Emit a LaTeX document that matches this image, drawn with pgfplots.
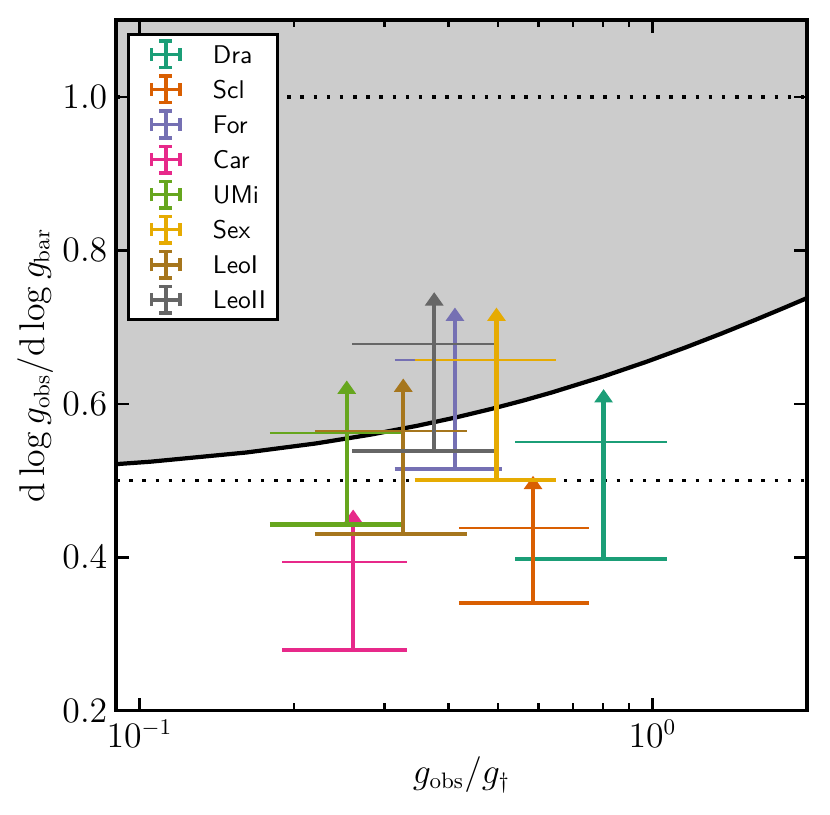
\documentclass[border=0pt]{standalone}
\usepackage{pgfplots}
\pgfplotsset{compat=1.18}
\usetikzlibrary{arrows.meta}
\definecolor{cdra}{HTML}{1B9E77}
\definecolor{cscl}{HTML}{D95F02}
\definecolor{cfor}{HTML}{7570B3}
\definecolor{ccar}{HTML}{E7298A}
\definecolor{cumi}{HTML}{66A61E}
\definecolor{csex}{HTML}{E6AB02}
\definecolor{cleoi}{HTML}{A6761D}
\definecolor{cleoii}{HTML}{666666}
\pgfplotsset{
  errleg/.style={#1, line width=1.5pt, legend image code/.code={
    \path (0pt,0pt);
    \draw (4.8pt,0pt) -- (16.3pt,0pt);
    \draw (10.55pt,-5.3pt) -- (10.55pt,5.3pt);
    \draw (4.8pt,-2.6pt) -- (4.8pt,2.6pt);
    \draw (16.3pt,-2.6pt) -- (16.3pt,2.6pt);
    \draw (7.95pt,5.3pt) -- (13.15pt,5.3pt);
    \draw (7.95pt,-5.3pt) -- (13.15pt,-5.3pt);
  }},
  thickbar/.style={#1, line width=1.7pt, forget plot},
  thinbar/.style={#1, line width=0.8pt, forget plot},
  uparrow/.style={#1, line width=1.8pt, -{Triangle[width=7.2pt,length=5.4pt]}, forget plot},
}
\begin{document}
\begin{tikzpicture}
\useasboundingbox (-46.7pt,-41.85pt) rectangle (287.3pt,286.05pt);
\begin{axis}[
  at={(0pt,0pt)}, anchor=south west,
  scale only axis, width=278pt, height=278pt,
  xmode=log, xmin=0.09, xmax=2, ymin=0.2, ymax=1.1,
  xtick={0.1,1}, xticklabels={$10^{-1}$,$10^{0}$},
  minor xtick={0.2,0.3,0.4,0.5,0.6,0.7,0.8,0.9},
  ytick={0.2,0.4,0.6,0.8,1.0},
  y tick label style={/pgf/number format/.cd,fixed,fixed zerofill,precision=1,/tikz/.cd},
  tick align=inside,
  xtick pos=both, ytick pos=both,
  major tick length=5.2pt, minor tick length=3pt,
  every tick/.append style={black, line width=1pt},
  axis line style={line width=1.3pt},
  axis on top,
  tick label style={font=\fontsize{13.4}{15}\selectfont},
  label style={font=\fontsize{13.4}{15}\selectfont},
  xlabel={$g_{\mathrm{obs}}/g_{\dagger}$},
  ylabel={$\mathrm{d}\log g_{\mathrm{obs}}/\mathrm{d}\log g_{\mathrm{bar}}$},
  xlabel style={at={(axis description cs:0.5,-0.0928)}, anchor=center},
  ylabel style={at={(axis description cs:-0.1172,0.5)}, anchor=center},
  legend cell align=left,
  legend style={
    at={(rel axis cs:0,1)}, anchor=north west, xshift=4.6pt, yshift=-5.4pt,
    draw=black, line width=1.2pt, fill=white,
    font=\sffamily\fontsize{10.3}{12}\selectfont,
    inner xsep=3.5pt, inner ysep=1.8pt,
    row sep=2pt, /tikz/column sep=11.5pt,
    nodes={inner sep=1pt, text height=7pt, text depth=0pt},
  },
]
% shaded region above the curve
\addplot[fill=gray!40, draw=none, forget plot] coordinates {
 (0.05126,0.51239) (0.08324,0.51973) (0.10508,0.52458) (0.16153,0.53656)
 (0.22067,0.54834) (0.28255,0.55990) (0.34725,0.57126) (0.41482,0.58241)
 (0.48532,0.59335) (0.55882,0.60409) (0.63537,0.61463) (0.79789,0.63509)
 (0.97335,0.65475) (1.16222,0.67362) (1.36495,0.69170) (1.58198,0.70901)
 (1.81374,0.72557) (2.06066,0.74139) (2.06066,1.2) (0.05126,1.2)} -- cycle;
\addplot[black, line width=1.7pt, forget plot] coordinates {
 (0.05126,0.51239) (0.08324,0.51973) (0.10508,0.52458) (0.16153,0.53656)
 (0.22067,0.54834) (0.28255,0.55990) (0.34725,0.57126) (0.41482,0.58241)
 (0.48532,0.59335) (0.55882,0.60409) (0.63537,0.61463) (0.79789,0.63509)
 (0.97335,0.65475) (1.16222,0.67362) (1.36495,0.69170) (1.58198,0.70901)
 (1.81374,0.72557) (2.06066,0.74139)};
\addplot[black, line width=1.4pt, dash pattern=on 1.4pt off 3.9pt, forget plot] coordinates {(0.09,1.0) (2,1.0)};
\addplot[black, line width=1.4pt, dash pattern=on 1.4pt off 3.9pt, forget plot] coordinates {(0.09,0.5) (2,0.5)};
% Dra
\addplot[thickbar=cdra] coordinates {(0.5405,0.3974) (1.066,0.3974)};
\addplot[thinbar=cdra] coordinates {(0.5405,0.5507) (1.066,0.5507)};
\addplot[uparrow=cdra] coordinates {(0.8029,0.3974) (0.8029,0.6192)};
% Scl
\addplot[thickbar=cscl] coordinates {(0.4194,0.3403) (0.7505,0.3403)};
\addplot[thinbar=cscl] coordinates {(0.4194,0.4383) (0.7505,0.4383)};
\addplot[uparrow=cscl] coordinates {(0.5850,0.3403) (0.5850,0.5063)};
% For
\addplot[thickbar=cfor] coordinates {(0.3144,0.5154) (0.5088,0.5154)};
\addplot[thinbar=cfor] coordinates {(0.3144,0.6575) (0.5088,0.6575)};
\addplot[uparrow=cfor] coordinates {(0.4120,0.5154) (0.4120,0.7255)};
% Car
\addplot[thickbar=ccar] coordinates {(0.1900,0.2793) (0.3318,0.2793)};
\addplot[thinbar=ccar] coordinates {(0.1900,0.3939) (0.3318,0.3939)};
\addplot[uparrow=ccar] coordinates {(0.2609,0.2793) (0.2609,0.4624)};
% UMi
\addplot[thickbar=cumi] coordinates {(0.1796,0.4427) (0.3244,0.4427)};
\addplot[thinbar=cumi] coordinates {(0.1796,0.5625) (0.3244,0.5625)};
\addplot[uparrow=cumi] coordinates {(0.2535,0.4427) (0.2535,0.6305)};
% Sex
\addplot[thickbar=csex] coordinates {(0.3439,0.5007) (0.6483,0.5007)};
\addplot[thinbar=csex] coordinates {(0.3439,0.6575) (0.6483,0.6575)};
\addplot[uparrow=csex] coordinates {(0.4965,0.5007) (0.4965,0.7255)};
% LeoI
\addplot[thickbar=cleoi] coordinates {(0.2197,0.4305) (0.4352,0.4305)};
\addplot[thinbar=cleoi] coordinates {(0.2197,0.5651) (0.4352,0.5651)};
\addplot[uparrow=cleoi] coordinates {(0.3267,0.4305) (0.3267,0.6331)};
% LeoII
\addplot[thickbar=cleoii] coordinates {(0.2600,0.5382) (0.4920,0.5382)};
\addplot[thinbar=cleoii] coordinates {(0.2600,0.6784) (0.4920,0.6784)};
\addplot[uparrow=cleoii] coordinates {(0.3754,0.5382) (0.3754,0.7455)};
% legend
\addlegendimage{errleg=cdra}\addlegendentry{Dra}
\addlegendimage{errleg=cscl}\addlegendentry{Scl}
\addlegendimage{errleg=cfor}\addlegendentry{For}
\addlegendimage{errleg=ccar}\addlegendentry{Car}
\addlegendimage{errleg=cumi}\addlegendentry{UMi}
\addlegendimage{errleg=csex}\addlegendentry{Sex}
\addlegendimage{errleg=cleoi}\addlegendentry{LeoI}
\addlegendimage{errleg=cleoii}\addlegendentry{LeoII}
\end{axis}
\end{tikzpicture}
\end{document}
